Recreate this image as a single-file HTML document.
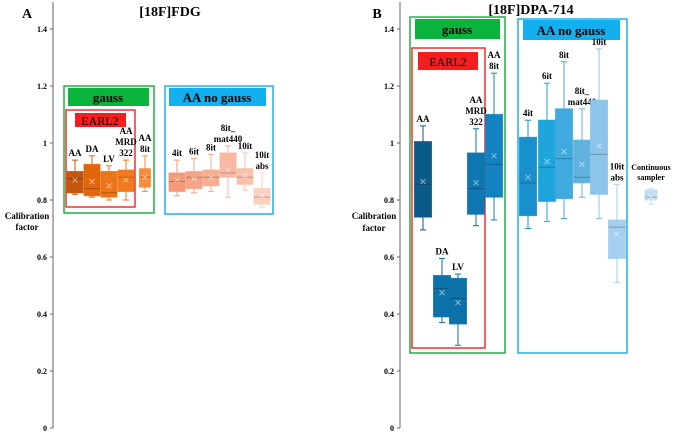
<!DOCTYPE html>
<html><head><meta charset="utf-8"><style>
body{margin:0;background:#fff}
svg{display:block;font-family:"Liberation Serif",serif}
</style></head><body>
<svg id="chart" width="685" height="433" viewBox="0 0 685 433" xmlns="http://www.w3.org/2000/svg">
<g>
<rect x="64" y="86" width="90" height="127" fill="none" stroke="#1db045" stroke-width="1.5"/>
<rect x="68" y="88" width="81" height="18" fill="#0ab43c"/>
<text x="108" y="102" font-size="13" font-weight="bold" text-anchor="middle">gauss</text>
<rect x="66" y="110" width="69" height="97" fill="none" stroke="#f03030" stroke-width="1.5"/>
<rect x="75" y="113" width="51" height="14" fill="#f41e1e"/>
<text x="100" y="125" font-size="12" text-anchor="middle">EARL2</text>
<rect x="165" y="86" width="108" height="128" fill="none" stroke="#1cb0f0" stroke-width="1.5"/>
<rect x="169" y="88" width="97" height="18" fill="#12b0ee"/>
<text x="217" y="102" font-size="13" font-weight="bold" text-anchor="middle">AA no gauss</text>

<rect x="410" y="17" width="95" height="336" fill="none" stroke="#1db045" stroke-width="1.5"/>
<rect x="415" y="19" width="85" height="20" fill="#0ab43c"/>
<text x="457" y="34" font-size="13" font-weight="bold" text-anchor="middle">gauss</text>
<rect x="412" y="48" width="73" height="300" fill="none" stroke="#f03030" stroke-width="1.5"/>
<rect x="418" y="52" width="60" height="18" fill="#f41e1e"/>
<text x="448" y="66" font-size="12" text-anchor="middle">EARL2</text>
<rect x="518" y="19" width="109" height="334" fill="none" stroke="#1cb0f0" stroke-width="1.5"/>
<rect x="523" y="20" width="97" height="20" fill="#12b0ee"/>
<text x="571" y="35" font-size="13" font-weight="bold" text-anchor="middle">AA no gauss</text>
</g>
<text x="27" y="18" font-size="14" font-weight="bold" text-anchor="middle">A</text>
<text x="170" y="16" font-size="14" font-weight="bold" text-anchor="middle">[18F]FDG</text>
<text x="377" y="18" font-size="14" font-weight="bold" text-anchor="middle">B</text>
<text x="531" y="14" font-size="14" font-weight="bold" text-anchor="middle">[18F]DPA-714</text>
<text font-size="9" font-weight="bold" text-anchor="middle"><tspan x="27" y="219">Calibration</tspan><tspan x="27" y="230">factor</tspan></text>
<text font-size="9" font-weight="bold" text-anchor="middle"><tspan x="374" y="219">Calibration</tspan><tspan x="374" y="231">factor</tspan></text>
<g id="plot"></g>
</svg>
<script>
const yTicks=[0,0.2,0.4,0.6,0.8,1,1.2,1.4];
const yTickLabels=["0","0.2","0.4","0.6","0.8","1","1.2","1.4"];
const catsA=["AA","DA","LV","AA|MRD|322","AA|8it","4it","6it","8it","8it_|mat440","10it","10it|abs"];
const minA=[0.82,0.81,0.80,0.80,0.83,0.815,0.825,0.83,0.81,0.835,0.775];
const q1A=[0.825,0.815,0.81,0.83,0.845,0.83,0.84,0.85,0.88,0.855,0.785];
const medA=[0.875,0.84,0.825,0.88,0.88,0.865,0.88,0.88,0.895,0.88,0.81];
const q3A=[0.90,0.925,0.90,0.905,0.91,0.895,0.90,0.905,0.965,0.91,0.84];
const maxA=[0.94,0.955,0.92,0.94,0.955,0.94,0.945,0.96,0.99,0.965,0.895];
const meanA=[0.87,0.865,0.85,0.87,0.88,0.87,0.875,0.88,0.905,0.885,0.815];
const catsB=["AA","DA","LV","AA|MRD|322","AA|8it","4it","6it","8it","8it_|mat440","10it","10it|abs","Continuous|sampler"];
const minB=[0.695,0.37,0.29,0.71,0.73,0.70,0.725,0.735,0.81,0.735,0.51,0.785];
const q1B=[0.74,0.39,0.365,0.75,0.81,0.745,0.795,0.805,0.86,0.82,0.595,0.80];
const medB=[0.855,0.49,0.455,0.84,0.925,0.86,0.915,0.945,0.88,0.96,0.705,0.81];
const q3B=[1.005,0.535,0.525,0.965,1.10,1.02,1.08,1.12,1.01,1.15,0.73,0.835];
const maxB=[1.06,0.595,0.54,1.05,1.245,1.08,1.21,1.285,1.12,1.33,0.855,0.84];
const meanB=[0.865,0.475,0.44,0.86,0.955,0.88,0.935,0.97,0.925,0.99,0.68,0.81];

const NS="http://www.w3.org/2000/svg";
const plot=document.getElementById('plot');
function y(v){return 428-v*285;}
function el(t,a,p){const e=document.createElementNS(NS,t);for(const k in a)e.setAttribute(k,a[k]);(p||plot).appendChild(e);return e;}
const posA=[75,92,109,126,145,177,194,211,228,245,262];
const widA=[16,16,16,16,11,16,16,16,16,16,16];
const colA=["#c4560e","#e2660c","#ee7418","#f27a1c","#f58d3c","#f59a78","#f6a486","#f7ad90","#f8b7a0","#f9c0aa","#fbd0c2"];
const posB=[423,442,458,476,494,528,547,564,582,599,617,651];
const widB=[17,17,17,17,17,17,17,17,17,17,17,12];
const colB=["#0b5a88","#0e72aa","#0e72aa","#0e76b0","#1283c0","#1890cf","#1ea6dc","#3eaade","#62b2e0","#8cc4ea","#a4cfee","#c2def2"];
function axis(x0,name){
  const g=el('g',{});
  
  
  const l=el('line',{x1:x0,y1:2,x2:x0,y2:y(0),stroke:'#666','stroke-width':1},g);
  
  
  yTicks.forEach((v,i)=>{
    const t=el('line',{x1:x0-3,y1:y(v),x2:x0,y2:y(v),stroke:'#666'},g);
    
    
    const tx=el('text',{x:x0-6,y:y(v)+3,'font-size':8,'font-weight':'bold','text-anchor':'end'},g);
    tx.textContent=yTickLabels[i];
    
    
  });
}
axis(53,'y-axis-a');axis(400,'y-axis-b');
function boxes(cats,mn,q1,md,q3,mx,mean,pos,col,wid,panel){
  cats.forEach((c,i)=>{
    const g=el('g',{});
    
    
    const x=pos[i],hw=wid[i]/2;
    el('line',{x1:x,y1:y(mx[i]),x2:x,y2:y(mn[i]),stroke:col[i],'stroke-width':1},g);
    el('line',{x1:x-3,y1:y(mx[i]),x2:x+3,y2:y(mx[i]),stroke:col[i]},g);
    el('line',{x1:x-3,y1:y(mn[i]),x2:x+3,y2:y(mn[i]),stroke:col[i]},g);
    el('rect',{x:x-hw,y:y(q3[i]),width:hw*2,height:y(q1[i])-y(q3[i]),fill:col[i],stroke:col[i],'stroke-opacity':0.8},g);
    el('line',{x1:x-hw,y1:y(md[i]),x2:x+hw,y2:y(md[i]),stroke:'rgba(0,0,0,0.25)'},g);
    const m=y(mean[i]);
    el('path',{d:`M${x-2.5} ${m-2.5}L${x+2.5} ${m+2.5}M${x+2.5} ${m-2.5}L${x-2.5} ${m+2.5}`,stroke:'rgba(255,255,255,0.5)'},g);
    const lines=c.split('|');
    const cont=c.startsWith('Continuous');
    const t=el('text',{'font-size':cont?8:9,'font-weight':'bold','text-anchor':'middle'},g);
    
    
    const topY=cont?y(q3[i])-20:y(mx[i])-4-(lines.length-1)*11;
    lines.forEach((s,k)=>{const ts=el('tspan',{x:x,y:topY+k*(cont?10:11)},t);ts.textContent=s;});
  });
}
boxes(catsA,minA,q1A,medA,q3A,maxA,meanA,posA,colA,widA,'a');
boxes(catsB,minB,q1B,medB,q3B,maxB,meanB,posB,colB,widB,'b');
</script>
</body></html>
